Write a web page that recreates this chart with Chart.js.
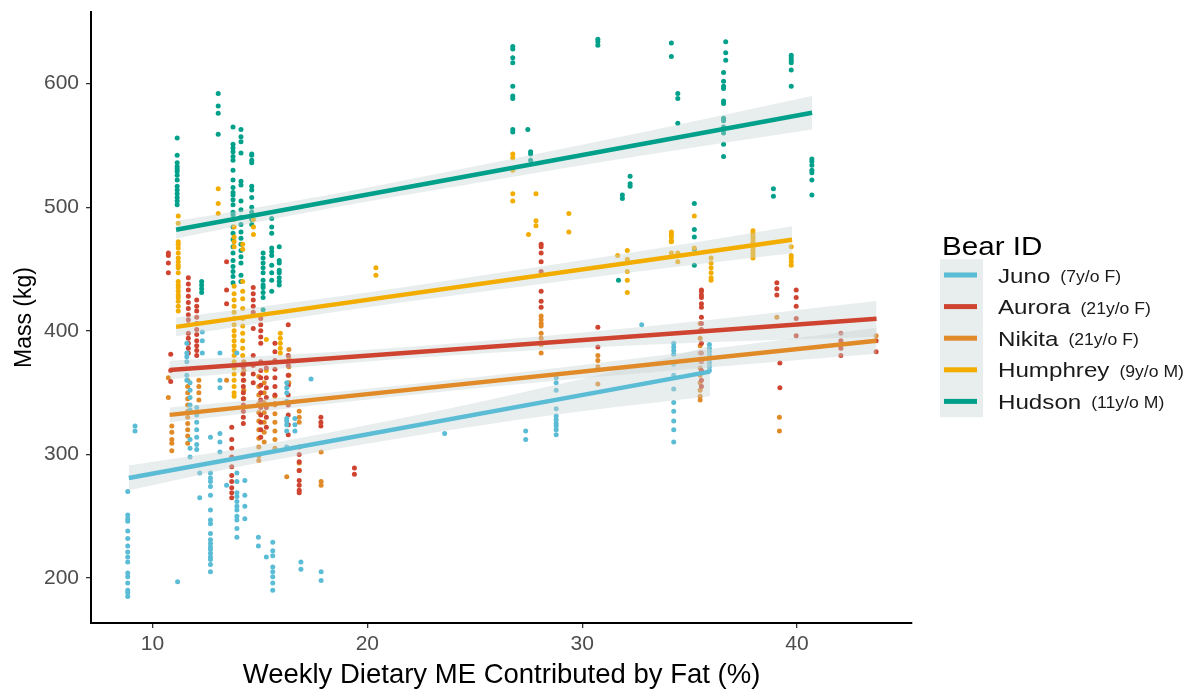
<!DOCTYPE html>
<html><head><meta charset="utf-8">
<script src="https://cdn.jsdelivr.net/npm/chart.js@4.4.1/dist/chart.umd.min.js"></script>
<style>html,body{margin:0;padding:0;background:#fff}#wrap{width:1192px;height:689px;position:relative}</style>
</head><body><div id="wrap"><canvas id="c" width="1192" height="689"></canvas></div>
<script>
const bearNames = ['Juno','Aurora','Nikita','Humphrey','Hudson'];
const bearNotes = ['(7y/o F)','(21y/o F)','(21y/o F)','(9y/o M)','(11y/o M)'];
const bearColors = ['#5bbcd6','#cf4430','#e08a28','#f2ad00','#00a08a'];
const xTicks = [10,20,30,40];
const yTicks = [200,300,400,500,600];

// columns: [weekly fat %, [mass values]]
const junoCols = [
 [8.85,[270,251,248,246,238,232,226,221,217,213,204,201,196,190,188,185]],
 [9.19,[323,319]],
 [11.17,[197]],
 [11.6,[390,382,379,375,364,360]],
 [11.75,[358,352,346,340,336,312,305,298]],
 [12.06,[338,332,326,320,314,308,304]],
 [12.2,[285,265]],
 [12.32,[399,392,382]],
 [12.7,[314,285,281,278,274,267,255,247,244,236,231,228,225,223,220,217,215,211,205]],
 [13.14,[382,360,354,317,310,302]],
 [13.45,[275]],
 [13.93,[382,285,278,269,266,262,258,255,250,247,240,233]],
 [14.3,[279,267,258,248]],
 [14.93,[233,226]],
 [15.3,[217]],
 [15.6,[229,222,218,209,205,201,196,190]],
 [16.25,[358,354,350,343,329,327,324,319,306]],
 [16.63,[329,324,319]],
 [16.91,[213,207]],
 [17.38,[361]],
 [17.85,[205,198]],
 [23.6,[317]],
 [27.37,[319,312]],
 [28.79,[362,358,352,337,331,328,325,323,320,316]],
 [32.77,[405]],
 [34.26,[390,387,384,381,373,364,353,342,335,327,320,310]],
 [35.92,[389,386,383,380,377,374,371,368]]
];
const auroraCols = [
 [10.74,[463,461,455,447]],
 [10.85,[381,368,359]],
 [11.67,[443,438,433,428,423,418,413,409,405,398,394,390,386,382]],
 [12.06,[425,420,416,411,406,401,397,392,388,384,380]],
 [13.45,[456,433,422]],
 [13.69,[322,312,305,298,290,283,278,273,269,265]],
 [14.23,[371,365,360,355,350,345,340,335,330,325]],
 [14.69,[435,430,425,420,415,402,380,372,365,358]],
 [15.04,[410,405,400,395,390,375,368,362,356,350,344,338,332,326,320,314]],
 [15.3,[370,362,354,346,338,330,322]],
 [15.7,[390,383,376,369,362,355,348,341]],
 [16.32,[405,380,372,364,356,348,340,332,324,316]],
 [16.83,[306,300,294,287,279,275,271,269]],
 [17.84,[330,326,323]],
 [19.4,[289,284]],
 [28.09,[470,468,463,456,448,432,424,419]],
 [30.73,[403,387]],
 [35.55,[433,432,429,427,422,419,411,406,401,390,382,375,368,360,355]],
 [39.06,[439,434,429]],
 [39.2,[374,354]],
 [39.96,[433,427,420,410,396]],
 [42.04,[398,392,386,380]],
 [43.68,[392,383]]
];
const nikitaCols = [
 [10.74,[362,346]],
 [10.9,[323,318,312,309,303]],
 [11.64,[360,355,350,345,340,335,330,325,320,315,309]],
 [12.16,[360,355,350,344]],
 [13.45,[360]],
 [14.25,[375,368,360,352,345]],
 [14.95,[363,355,348,341,334,327,320,313,306,299,295]],
 [15.2,[358,350,342,334,326,318,310]],
 [15.7,[347,340,333,326,319,312,305]],
 [16.25,[282]],
 [16.35,[385,378,371,364,358]],
 [16.83,[335,330,326,293,287]],
 [17.85,[302,278,275]],
 [28.09,[412,409,406,404,398,394,389,382]],
 [30.73,[380,376,371,357]],
 [35.49,[406,400,394,388,382,376,370,364,358,352,347,344]],
 [39.06,[411]],
 [39.18,[330,319]],
 [43.68,[396]]
];
const humphreyCols = [
 [11.2,[493,487,472,470,467,463,459,456,453,451,447,440,437,435,432,429,427,424,420,416]],
 [13.06,[515,503,495]],
 [13.8,[490,484,476,472,468,436,430,425,420,415,410,405,400,396,392,388,384,380,375,370,365,360,355,350,347]],
 [14.2,[470,466,440,432,426,418,410,404,398,392,386,380,372,365]],
 [14.7,[490,484,478]],
 [15.3,[393,368]],
 [15.95,[398,394,390,386,382]],
 [20.4,[451,445]],
 [26.77,[543,540,530,511,505]],
 [27.5,[478]],
 [27.85,[511,489,485]],
 [29.38,[495,480]],
 [31.65,[461]],
 [32.1,[465,458,448,441,431]],
 [34.15,[480,478,476,473,472,463]],
 [34.45,[463,456]],
 [35.22,[493,467]],
 [36.0,[459,455,451,447,443,441]],
 [37.95,[481,479,477,475,473,471,469,467,465,463,461,459]],
 [39.73,[468,461,459,456,453]]
];
const hudsonCols = [
 [11.15,[556,542,536,533,531,529,526,522,517,514,511,508,505,502]],
 [12.29,[440,437,434,431]],
 [13.06,[592,582,576,559]],
 [13.75,[565,551,548,545,541,538,530,522,516,512,510,506,502,496,494,490,484,479,474,468,463,457,452,448,444,439]],
 [14.12,[563,557,553,544,521,518,505,498,492,486,480,475,470,465,460,455,445,440]],
 [14.62,[543,542,538,536,517,514,508,500,496,490,486]],
 [15.15,[463,459,455,451,447,441,437,435,431,427,417]],
 [15.55,[491,484,479,467,464,461,453,447,441,432]],
 [15.9,[468,457,455,449,447,443,440,437]],
 [26.77,[630,628,621,617,598,590,588,563,561]],
 [27.47,[563]],
 [27.6,[545,543,538]],
 [30.73,[636,634,631]],
 [31.69,[441]],
 [31.87,[510,507]],
 [32.23,[525,519,517]],
 [34.15,[633,622]],
 [34.45,[592,588,568]],
 [35.22,[503,482,476,466,453]],
 [36.68,[634,625,619]],
 [36.58,[609,602,598,596,586,584,572,570,565,563,560,551,541]],
 [38.9,[515,509]],
 [39.73,[623,621,619,617,611,598]],
 [40.69,[539,537,534,530,528,522,510]]
];

// fitted lines
const junoFitX = [8.9, 35.95],     junoFitY = [281, 367];
const auroraFitX = [10.8, 43.7],   auroraFitY = [368.4, 409.7];
const nikitaFitX = [10.8, 43.7],   nikitaFitY = [332, 392];
const humphreyFitX = [11.1, 39.77],humphreyFitY = [403.2, 473.7];
const hudsonFitX = [11.1, 40.7],   hudsonFitY = [481.8, 576.5];

// confidence bands
const junoBandX = [8.9, 15, 22, 28.8, 34.3, 35.95];
const junoBandLo = [271, 293.4, 314.6, 332.3, 343.8, 347];
const junoBandHi = [291, 307.4, 330.6, 356.3, 379.8, 388];
const auroraBandX = [10.8, 18, 26, 35, 43.7];
const auroraBandLo = [360.9, 372.4, 382.5, 390.2, 395.2];
const auroraBandHi = [375.9, 382.4, 392.5, 407.2, 424.2];
const nikitaBandX = [10.8, 18, 26, 35, 43.7];
const nikitaBandLo = [326, 340.6, 355.2, 369.1, 381.5];
const nikitaBandHi = [338, 349.6, 364.2, 383.1, 402.5];
const humphreyBandX = [11.1, 20, 28, 34, 39.77];
const humphreyBandLo = [395.7, 419.1, 437.8, 451, 462.7];
const humphreyBandHi = [410.7, 431.1, 451.8, 468, 484.7];
const hudsonBandX = [11.1, 18, 25.5, 33, 40.7];
const hudsonBandLo = [474.8, 498.4, 520.9, 542.4, 563];
const hudsonBandHi = [488.8, 509.4, 534.9, 561.4, 590];

const allCols = [junoCols, auroraCols, nikitaCols, humphreyCols, hudsonCols];
const allFits = [[junoFitX,junoFitY],[auroraFitX,auroraFitY],[nikitaFitX,nikitaFitY],[humphreyFitX,humphreyFitY],[hudsonFitX,hudsonFitY]];
const allBands = [[junoBandX,junoBandLo,junoBandHi],[auroraBandX,auroraBandLo,auroraBandHi],[nikitaBandX,nikitaBandLo,nikitaBandHi],[humphreyBandX,humphreyBandLo,humphreyBandHi],[hudsonBandX,hudsonBandLo,hudsonBandHi]];

const FONT = '"Liberation Sans", Arial, Helvetica, sans-serif';
const bandFill = 'rgba(200,212,212,0.42)';
const zip = (xs, ys) => xs.map((x, i) => ({x, y: ys[i]}));

const datasets = [];
for (let i = 0; i < 5; i++) {
  const [bx, lo, hi] = allBands[i];
  datasets.push({type:'line', label: bearNames[i]+' band', data: zip(bx, hi), showLine:true, borderWidth:0, pointRadius:0,
    fill:'+1', backgroundColor: bandFill, cubicInterpolationMode:'monotone', order: 60 - 2*i});
  datasets.push({type:'line', label: bearNames[i]+' band lo', data: zip(bx, lo), showLine:true, borderWidth:0, pointRadius:0,
    fill:false, borderColor:'rgba(0,0,0,0)', cubicInterpolationMode:'monotone', order: 60 - 2*i});
  const [fx, fy] = allFits[i];
  datasets.push({type:'line', label: bearNames[i]+' fit', data: zip(fx, fy), showLine:true, borderColor: bearColors[i],
    borderWidth:4.5, pointRadius:0, fill:false, borderCapStyle:'butt', order: 59 - 2*i});
}
for (let i = 0; i < 5; i++) {
  const pts = [];
  allCols[i].forEach(([x, ys]) => ys.forEach(y => pts.push({x, y})));
  datasets.push({type:'scatter', label: bearNames[i], data: pts, backgroundColor: bearColors[i],
    pointRadius: 2.5, borderWidth: 0, pointHoverRadius: 2.5, order: 100 + i});
}

const legendPlugin = {
  id: 'bearLegend',
  afterDraw(chart) {
    const ctx = chart.ctx;
    function st(t, x, y, size, sx, color) {
      ctx.save();
      ctx.font = size + 'px ' + FONT;
      ctx.fillStyle = color; ctx.textBaseline = 'alphabetic'; ctx.textAlign = 'left';
      ctx.translate(x, y); ctx.scale(sx, 1); ctx.fillText(t, 0, 0);
      const w = ctx.measureText(t).width * sx;
      ctx.restore();
      return w;
    }
    st('Bear ID', 942, 254.5, 25.5, 1.16, '#000');
    const top = 259.2, rowH = 31.6;
    ctx.save();
    ctx.fillStyle = '#e8eded';
    ctx.fillRect(940, top, 43, rowH * 5);
    for (let i = 0; i < 5; i++) {
      const cy = top + rowH * (i + 0.5);
      ctx.fillStyle = bearColors[i];
      ctx.fillRect(944, cy - 2.5, 33, 5);
    }
    ctx.restore();
    for (let i = 0; i < 5; i++) {
      const cy = top + rowH * (i + 0.5);
      const w = st(bearNames[i], 998, cy + 7.5, 21, 1.15, '#1a1a1a');
      st(bearNotes[i], 998 + w + 10, cy + 7, 16, 1.1, '#1a1a1a');
    }
  }
};

new Chart(document.getElementById('c'), {
  type: 'scatter',
  data: { datasets },
  options: {
    responsive: false,
    animation: false,
    devicePixelRatio: 1,
    events: [],
    layout: { padding: { left: 0, top: 12, right: 280, bottom: 0 } },
    plugins: { legend: { display: false }, tooltip: { enabled: false } },
    scales: {
      x: {
        type: 'linear', min: 7.14, max: 45.35,
        afterBuildTicks: s => { s.ticks = xTicks.map(v => ({value: v})); },
        afterFit: s => { s.height = 66; s.paddingLeft = 0; s.paddingRight = 0; },
        grid: { drawOnChartArea: false, drawTicks: true, tickLength: 5, color: '#333', lineWidth: 1.3 },
        border: { display: true, color: '#000', width: 2 },
        ticks: { color: '#4d4d4d', font: { family: FONT, size: 21 }, padding: 4, autoSkip: false, maxRotation: 0,
          callback: v => String(v) },
        title: { display: true, text: 'Weekly Dietary ME Contributed by Fat (%)', color: '#000',
          font: { family: FONT, size: 27.5, lineHeight: 1 }, padding: { top: 0, bottom: 0 } }
      },
      y: {
        type: 'linear', min: 163.6, max: 658,
        afterBuildTicks: s => { s.ticks = yTicks.map(v => ({value: v})); },
        afterFit: s => { s.width = 91; s.paddingTop = 0; s.paddingBottom = 0; },
        grid: { drawOnChartArea: false, drawTicks: true, tickLength: 5, color: '#333', lineWidth: 1.3 },
        border: { display: true, color: '#000', width: 2 },
        ticks: { color: '#4d4d4d', font: { family: FONT, size: 21 }, padding: 7, autoSkip: false,
          callback: v => String(v) },
        title: { display: true, text: 'Mass (kg)', color: '#000',
          font: { family: FONT, size: 23, lineHeight: 1 }, padding: { top: 13, bottom: 0 } }
      }
    }
  },
  plugins: [legendPlugin]
});
</script></body></html>
